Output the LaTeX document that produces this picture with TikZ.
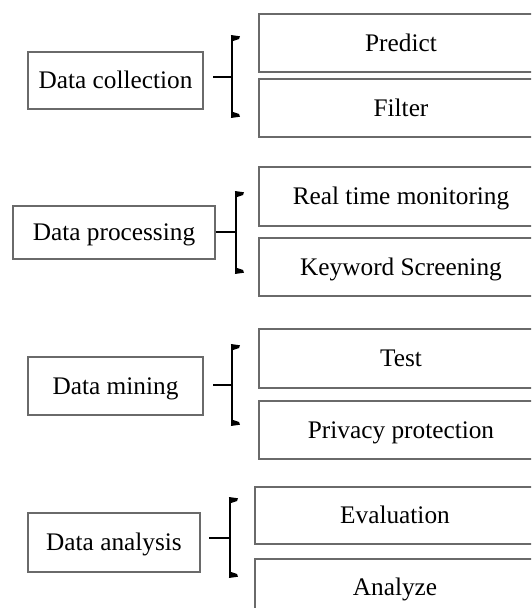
\documentclass[tikz,border=0pt]{standalone}
\usepackage{fontspec}
\setmainfont{Liberation Serif}
\definecolor{boxgray}{HTML}{6A6A6A}
\tikzset{
  box/.style={draw=boxgray, line width=1.2pt, fill=white, inner sep=0pt,
    text height=16.5pt, text depth=0pt,
    font=\fontsize{25.3}{30}\selectfont, text=black},
  brack/.style={line width=2.2pt, black},
  tick/.style={line width=1.8pt, black},
}
\newcommand{\mybracket}[4]{% name, x, top, bottom
  \coordinate (#1t) at (#2,#3);
  \coordinate (#1b) at (#2,#4);
  \draw[brack] (#1t) -- (#1b);
  \fill[black] (#2-1.1,#3-1) -- (#2+8,#3+0.3) -- (#2+7,#3+3) -- (#2+1.1,#3+5) -- cycle;
  \fill[black] (#2-1.1,#4+1) -- (#2+8,#4-0.3) -- (#2+7,#4-3) -- (#2+1.1,#4-5) -- cycle;
}
\begin{document}
\begin{tikzpicture}[x=1pt,y=-1pt]
\useasboundingbox (0,0) rectangle (531,608);
\clip (0,0) rectangle (531,608);
\fill[white] (0,0) rectangle (531,608);

% left boxes
\node[box, minimum width=175, minimum height=57] (L1) at (115.5,80.5) {Data collection};
\node[box, minimum width=202, minimum height=53] (L2) at (114,232.5) {Data processing};
\node[box, minimum width=175, minimum height=58] (L3) at (115.5,386) {Data mining};
\node[box, minimum width=172, minimum height=59] (L4) at (114,542.5) {Data analysis};

% right boxes
\node[box, minimum width=284, minimum height=58] (R1) at (401,43) {Predict};
\node[box, minimum width=284, minimum height=58] (R2) at (401,108) {Filter};
\node[box, minimum width=284, minimum height=59] (R3) at (401,196.5) {Real time monitoring};
\node[box, minimum width=284, minimum height=58] (R4) at (401,267) {Keyword Screening};
\node[box, minimum width=284, minimum height=59] (R5) at (401,358.5) {Test};
\node[box, minimum width=284, minimum height=58] (R6) at (401,430) {Privacy protection};
\node[box, minimum width=280, minimum height=57] (R7) at (395,515.5) {Evaluation};
\node[box, minimum width=280, minimum height=57] (R8) at (395,587.5) {Analyze};

% brackets
\mybracket{B1}{232}{36}{117}
\mybracket{B2}{236}{192}{273}
\mybracket{B3}{232}{345}{425}
\mybracket{B4}{230}{498}{577}

\coordinate (m1) at (232,77);
\coordinate (m2) at (236,232);
\coordinate (m3) at (232,385);
\coordinate (m4) at (230,538);
\coordinate (s1) at (213,77);
\coordinate (s2) at (L2.east |- m2);
\coordinate (s3) at (213,385);
\coordinate (s4) at (209,538);
\draw[tick] (s1) -- (m1);
\draw[tick] (s2) -- (m2);
\draw[tick] (s3) -- (m3);
\draw[tick] (s4) -- (m4);
\end{tikzpicture}
\end{document}
